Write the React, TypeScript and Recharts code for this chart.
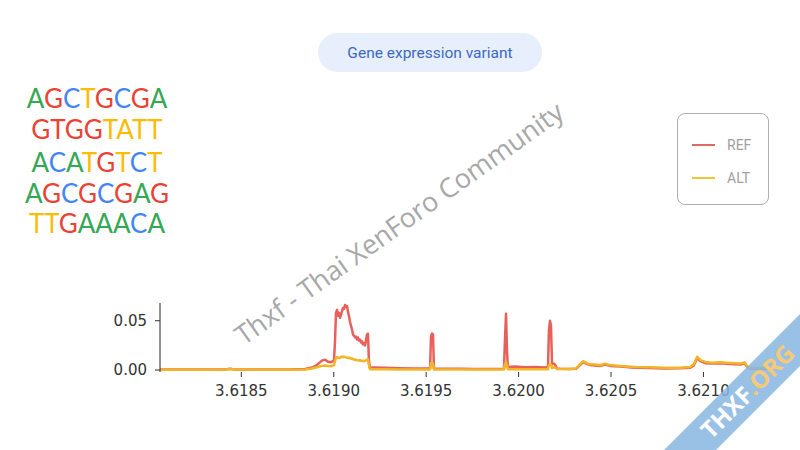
import React from "react";
import { LineChart, Line, XAxis, YAxis, Legend } from "recharts";

// positions along the genome (Mb)
const positions = [
  3.61806, 3.618276, 3.618412, 3.618439, 3.618466, 3.618601, 3.618763, 3.618845,
  3.618882, 3.618904, 3.61892, 3.618936, 3.618953, 3.618969, 3.618985, 3.619001,
  3.619007, 3.619012, 3.619018, 3.619023, 3.619028, 3.619034, 3.619039, 3.619045,
  3.61905, 3.619055, 3.619061, 3.619066, 3.619072, 3.619077, 3.619082, 3.619088,
  3.619093, 3.619099, 3.619104, 3.619109, 3.619115, 3.61912, 3.619126, 3.619131,
  3.619136, 3.619142, 3.619147, 3.619153, 3.619158, 3.619163, 3.619169, 3.619174,
  3.61918, 3.619185, 3.61919, 3.619196, 3.619207, 3.619277, 3.619358, 3.61944,
  3.619521, 3.619526, 3.619531, 3.619537, 3.619542, 3.619602, 3.619683, 3.619764,
  3.619845, 3.619921, 3.619926, 3.619932, 3.619937, 3.619942, 3.61998, 3.620035,
  3.620089, 3.620143, 3.620159, 3.620164, 3.62017, 3.620175, 3.620181, 3.620191,
  3.620197, 3.620208, 3.620224, 3.620278, 3.620311, 3.620332, 3.620349, 3.620365,
  3.620386, 3.620413, 3.62044, 3.620467, 3.620495, 3.620549, 3.62063, 3.620711,
  3.620792, 3.620873, 3.620927, 3.620949, 3.620966, 3.620983, 3.62101, 3.621048,
  3.621091, 3.621145, 3.621199, 3.621221, 3.621237, 3.621253, 3.621307, 3.621361,
];

const refValues = [
  0.0005, 0.0005, 0.0006, 0.0012, 0.0006, 0.0005, 0.0006, 0.001,
  0.0025, 0.0045, 0.007, 0.0095, 0.0105, 0.0085, 0.008, 0.0095,
  0.03, 0.058, 0.061, 0.055, 0.058, 0.053, 0.056, 0.06,
  0.063, 0.062, 0.066, 0.064, 0.065, 0.059, 0.055, 0.049,
  0.045, 0.041, 0.036, 0.035, 0.033, 0.034, 0.031, 0.033,
  0.03, 0.031, 0.028, 0.029, 0.026, 0.027, 0.025, 0.03,
  0.036, 0.037, 0.01, 0.002, 0.0025, 0.0022, 0.0018, 0.0016,
  0.0015, 0.034, 0.037, 0.036, 0.0015, 0.0012, 0.0012, 0.001,
  0.001, 0.0012, 0.03, 0.057, 0.02, 0.003, 0.0035, 0.0028,
  0.003, 0.0026, 0.003, 0.04, 0.05, 0.045, 0.006, 0.0065,
  0.0055, 0.0015, 0.0012, 0.001, 0.0012, 0.005, 0.008, 0.0065,
  0.005, 0.0045, 0.004, 0.0055, 0.0042, 0.0035, 0.0022, 0.002,
  0.0015, 0.0018, 0.0022, 0.005, 0.012, 0.009, 0.007, 0.0065,
  0.0068, 0.006, 0.0055, 0.0068, 0.003, 0.0015, 0.0015, 0.001,
];

const altValues = [
  0.0004, 0.0004, 0.0005, 0.0011, 0.0005, 0.0004, 0.0004, 0.0006,
  0.0015, 0.0025, 0.0035, 0.0042, 0.0045, 0.004, 0.0038, 0.005,
  0.009, 0.0125, 0.013, 0.0128, 0.0122, 0.0125, 0.0132, 0.0135,
  0.013, 0.0136, 0.0133, 0.0128, 0.0125, 0.0122, 0.0126, 0.012,
  0.0115, 0.0118, 0.011, 0.0105, 0.0108, 0.01, 0.0102, 0.0098,
  0.0095, 0.01, 0.0094, 0.0092, 0.0095, 0.009, 0.0093, 0.0098,
  0.0105, 0.0108, 0.005, 0.0008, 0.0008, 0.0007, 0.0006, 0.0006,
  0.0006, 0.007, 0.0072, 0.0065, 0.0006, 0.0006, 0.0005, 0.0005,
  0.0005, 0.0006, 0.006, 0.008, 0.005, 0.0008, 0.0008, 0.0007,
  0.0008, 0.0007, 0.0008, 0.005, 0.006, 0.0055, 0.002, 0.003,
  0.0025, 0.001, 0.001, 0.001, 0.0015, 0.006, 0.009, 0.0072,
  0.0058, 0.0055, 0.0048, 0.0065, 0.005, 0.0042, 0.003, 0.0028,
  0.0022, 0.0024, 0.003, 0.006, 0.0135, 0.01, 0.0082, 0.0075,
  0.008, 0.0072, 0.0065, 0.0078, 0.0038, 0.0022, 0.002, 0.0015,
];

const xTicks = [3.6185, 3.619, 3.6195, 3.62, 3.6205, 3.621];
const yTicks = [0, 0.05];
const seriesNames = ["REF", "ALT"];
const seriesColors = ["#e8605a", "#f2b526"];
const legendColors = ["#dc6a62", "#f0c53a"];

const dnaRows = ["AGCTGCGA", "GTGGTATT", "ACATGTCT", "AGCGCGAG", "TTGAAACA"];
const dnaColorRows = [
  ["g", "r", "b", "y", "r", "b", "r", "g"],
  ["r", "r", "r", "r", "y", "y", "y", "y"],
  ["g", "b", "g", "y", "r", "y", "b", "y"],
  ["g", "r", "b", "r", "b", "r", "g", "r"],
  ["y", "y", "r", "g", "g", "g", "b", "g"],
];
const dnaPalette: Record<string, string> = {
  g: "#34a853",
  r: "#ea4335",
  b: "#4285f4",
  y: "#fbbc05",
};

const data = positions.map((x, i) => ({ x, REF: refValues[i], ALT: altValues[i] }));

const LegendBox = () => (
  <div
    style={{
      width: 92,
      height: 92,
      boxSizing: "border-box",
      border: "1.5px solid #b0b0b0",
      borderRadius: 8,
      background: "#fff",
      position: "relative",
      fontFamily: "Roboto, sans-serif",
      fontSize: 14,
      color: "#a0a0a0",
    }}
  >
    {seriesNames.map((n, i) => (
      <div key={n} style={{ position: "absolute", left: 14, top: 23 + i * 33, height: 16, display: "flex", alignItems: "center" }}>
        <div style={{ width: 23, height: 2, background: legendColors[i] }} />
        <span style={{ marginLeft: 12, lineHeight: "16px" }}>{n}</span>
      </div>
    ))}
  </div>
);

export default function App() {
  const baselines = [108, 139, 171.5, 202.5, 233];
  return (
    <div style={{ position: "absolute", left: 0, top: 0, width: 800, height: 450, background: "#fff", overflow: "hidden" }}>
      <LineChart width={800} height={450} data={data} margin={{ top: 303, right: 30, left: 100, bottom: 48 }}>
        <XAxis
          dataKey="x"
          type="number"
          domain={[3.61806, 3.62136]}
          allowDataOverflow
          ticks={xTicks}
          tickFormatter={(v: number) => v.toFixed(4)}
          axisLine={false}
          tickLine={{ stroke: "#333" }}
          tickSize={5}
          tickMargin={8}
          height={30}
          tick={{ fill: "#333", fontSize: 15, fontFamily: "DejaVu Sans" }}
        />
        <YAxis
          type="number"
          domain={[-0.002, 0.068]}
          allowDataOverflow
          ticks={yTicks}
          tickFormatter={(v: number) => v.toFixed(2)}
          axisLine={{ stroke: "#222" }}
          tickLine={{ stroke: "#333" }}
          tickSize={5}
          tickMargin={8}
          width={60}
          tick={{ fill: "#333", fontSize: 15, fontFamily: "DejaVu Sans" }}
        />
        <Legend
          layout="vertical"
          align="center"
          verticalAlign="middle"
          content={() => <LegendBox />}
          wrapperStyle={{ position: "absolute", left: 677, top: 113, width: 92, height: 92 }}
        />
        <Line type="linear" dataKey="REF" stroke={seriesColors[0]} strokeWidth={2.5} dot={false} isAnimationActive={false} strokeLinejoin="round" />
        <Line type="linear" dataKey="ALT" stroke={seriesColors[1]} strokeWidth={2.5} dot={false} isAnimationActive={false} strokeLinejoin="round" />
      </LineChart>
      <svg width={800} height={450} style={{ position: "absolute", left: 0, top: 0, pointerEvents: "none" }}>
        <rect x={318} y={33} width={224} height={39} rx={19.5} fill="#e8effc" />
        <text x={430} y={58} textAnchor="middle" fontFamily="Roboto, sans-serif" fontSize={15.5} fill="#3c69c2">
          Gene expression variant
        </text>
        {dnaRows.map((row, r) => (
          <text key={r} x={97} y={baselines[r]} textAnchor="middle" fontFamily="Lato, sans-serif" fontSize={26}>
            {row.split("").map((ch, i) => (
              <tspan key={i} fill={dnaPalette[dnaColorRows[r][i]]}>{ch}</tspan>
            ))}
          </text>
        ))}
        <text
          x={399}
          y={233}
          textAnchor="middle"
          fontFamily="Open Sans, sans-serif"
          fontSize={27}
          fill="#a8a8a8"
          transform="rotate(-35.5 399 223)"
        >
          Thxf - Thai XenForo Community
        </text>
        <polygon points="800,314 800,366 716,450 664,450" fill="#86b6e0" opacity={0.85} />
        <text
          x={748}
          y={400}
          textAnchor="middle"
          fontFamily="Open Sans, sans-serif"
          fontWeight={700}
          fontSize={24}
          transform="rotate(-45 748 392)"
        >
          <tspan fill="#ffffff">THXF</tspan>
          <tspan fill="#f6c978">.ORG</tspan>
        </text>
      </svg>
    </div>
  );
}
